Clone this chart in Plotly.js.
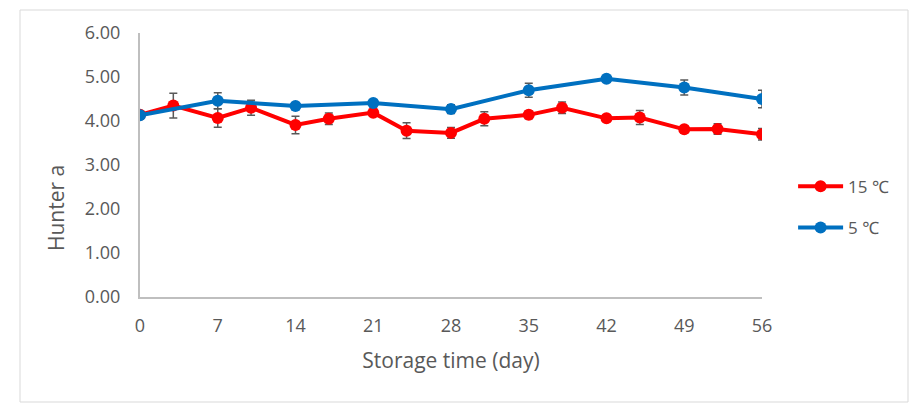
<!DOCTYPE html>
<html>
<head>
<meta charset="utf-8">
<script src="https://cdn.plot.ly/plotly-3.0.1.min.js"></script>
<style>html,body{margin:0;padding:0;background:#fff;}#chart{width:924px;height:416px;}</style>
</head>
<body>
<div id="chart"></div>
<script>
var days15 = [0, 3, 7, 10, 14, 17, 21, 24, 28, 31, 35, 38, 42, 45, 49, 52, 56];
var hunterA15 = [4.14, 4.35, 4.07, 4.30, 3.91, 4.05, 4.19, 3.78, 3.73, 4.05, 4.14, 4.30, 4.06, 4.08, 3.81, 3.82, 3.70];
var err15 = [0.05, 0.28, 0.21, 0.17, 0.20, 0.13, 0.05, 0.18, 0.12, 0.16, 0.09, 0.13, 0.03, 0.16, 0.08, 0.12, 0.13];
var days5 = [0, 7, 14, 21, 28, 35, 42, 49, 56];
var hunterA5 = [4.13, 4.46, 4.34, 4.41, 4.27, 4.70, 4.96, 4.76, 4.50];
var err5 = [0.05, 0.18, 0.05, 0.05, 0.10, 0.16, 0.03, 0.17, 0.20];
var xTicks = [0, 7, 14, 21, 28, 35, 42, 49, 56];
var yTicks = [0, 1, 2, 3, 4, 5, 6];
var seriesNames = ['15 \u2103', '5 \u2103'];

var font = '"Open Sans", "Noto Sans", sans-serif';
var grey = '#595959';

var traces = [
  {
    x: days15, y: hunterA15, name: seriesNames[0], type: 'scatter', mode: 'lines+markers',
    line: {color: '#FF0000', width: 4},
    marker: {color: '#FF0000', size: 12},
    error_y: {type: 'data', array: err15, visible: true, color: grey, thickness: 1.5, width: 4},
    legendgroup: 'a'
  },
  {
    x: days5, y: hunterA5, name: seriesNames[1], type: 'scatter', mode: 'lines+markers',
    line: {color: '#0070C0', width: 4},
    marker: {color: '#0070C0', size: 12},
    error_y: {type: 'data', array: err5, visible: true, color: grey, thickness: 1.5, width: 4},
    legendgroup: 'b'
  }
];

var layout = {
  width: 924, height: 416,
  margin: {l: 140, r: 162, t: 33, b: 119},
  paper_bgcolor: '#fff', plot_bgcolor: '#fff',
  font: {family: font, color: grey, size: 17},
  showlegend: true,
  legend: {x: 1.05, y: 0.34, xanchor: 'left', yanchor: 'middle', font: {size: 17, color: grey},
           tracegroupgap: 16, itemwidth: 45, bgcolor: 'rgba(0,0,0,0)'},
  xaxis: {
    range: [0, 56], tickvals: xTicks, ticktext: xTicks.map(String),
    showgrid: false, zeroline: false, showline: true, linecolor: '#BFBFBF', linewidth: 2,
    ticks: '', ticklabelstandoff: 11, tickfont: {size: 18, color: grey},
    title: {text: 'Storage time (day)', font: {size: 21, color: grey}, standoff: 18}
  },
  yaxis: {
    range: [0, 6], tickvals: yTicks, ticktext: yTicks.map(function(v){return v.toFixed(2);}),
    showgrid: false, zeroline: false, showline: true, linecolor: '#BFBFBF', linewidth: 2,
    ticks: '', ticklabelstandoff: 14, tickfont: {size: 18, color: grey}
  },
  annotations: [
    {text: 'Hunter a', xref: 'paper', yref: 'paper', x: (56 - 140) / 622, y: (297 - 208) / 264,
     xanchor: 'center', yanchor: 'middle', textangle: -90, showarrow: false,
     font: {size: 21, color: grey}}
  ],
  shapes: [
    {type: 'rect', xref: 'paper', yref: 'paper',
     x0: (20 - 140) / 622, x1: (908 - 140) / 622, y0: (297 - 402) / 264, y1: (297 - 10) / 264,
     line: {color: '#D9D9D9', width: 1}, layer: 'below'}
  ]
};

Plotly.newPlot('chart', traces, layout, {displayModeBar: false, staticPlot: true});
</script>
</body>
</html>
